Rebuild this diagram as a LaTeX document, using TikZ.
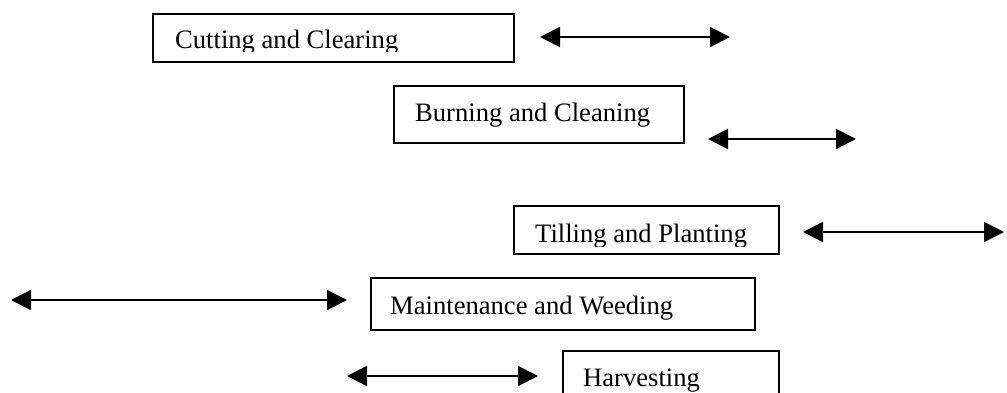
\documentclass[tikz,border=0pt]{standalone}
\usepackage{fontspec}
\setmainfont{Liberation Serif}
\usetikzlibrary{arrows.meta}
\tikzset{
  x=1pt, y=-1pt,
  stagebox/.style={draw=black, line width=2pt, inner sep=0pt, rectangle},
  stagetext/.style={anchor=base west, inner sep=0pt, font=\fontsize{26.6}{30}\selectfont},
  span/.style={line width=2pt, {Triangle[length=20pt,width=20pt]}-{Triangle[length=20pt,width=20pt]}}
}
\begin{document}
\begin{tikzpicture}
\clip (0,0) rectangle (1007,392);
\fill[white] (0,0) rectangle (1007,392);

% boxes
\node[stagebox, minimum width=361pt, minimum height=48pt] (b1) at (333.5,38) {};
\node[stagebox, minimum width=290pt, minimum height=57pt] (b2) at (539,114.5) {};
\node[stagebox, minimum width=265pt, minimum height=48pt] (b3) at (646.5,230) {};
\node[stagebox, minimum width=384pt, minimum height=52pt] (b4) at (563,304) {};
\node[stagebox, minimum width=216pt, minimum height=60pt] (b5) at (671,381) {};

% texts (clipped as in the original text boxes)
\begin{scope}
\clip (153,14) rectangle (514,51);
\node[stagetext] (t1) at (175,48) {Cutting and Clearing};
\end{scope}
\node[stagetext] (t2) at (415,121) {Burning and Cleaning};
\begin{scope}
\clip (514,206) rectangle (779,246);
\node[stagetext] (t3) at (535,242) {Tilling and Planting};
\end{scope}
\begin{scope}
\clip (371,278) rectangle (755,319);
\node[stagetext] (t4) at (390,314) {Maintenance and Weeding};
\end{scope}
\node[stagetext] (t5) at (583,386) {Harvesting};

% double-headed arrows
\coordinate (a1l) at (540,37);  \coordinate (a1r) at (730,37);
\coordinate (a2l) at (708,139); \coordinate (a2r) at (856,139);
\coordinate (a3l) at (803,232); \coordinate (a3r) at (1004,232);
\coordinate (a4l) at (11,300);  \coordinate (a4r) at (347,300);
\coordinate (a5l) at (347,376); \coordinate (a5r) at (538,376);
\draw[span] (a1l) -- (a1r);
\draw[span] (a2l) -- (a2r);
\draw[span] (a3l) -- (a3r);
\draw[span] (a4l) -- (a4r);
\draw[span] (a5l) -- (a5r);
\end{tikzpicture}
\end{document}
